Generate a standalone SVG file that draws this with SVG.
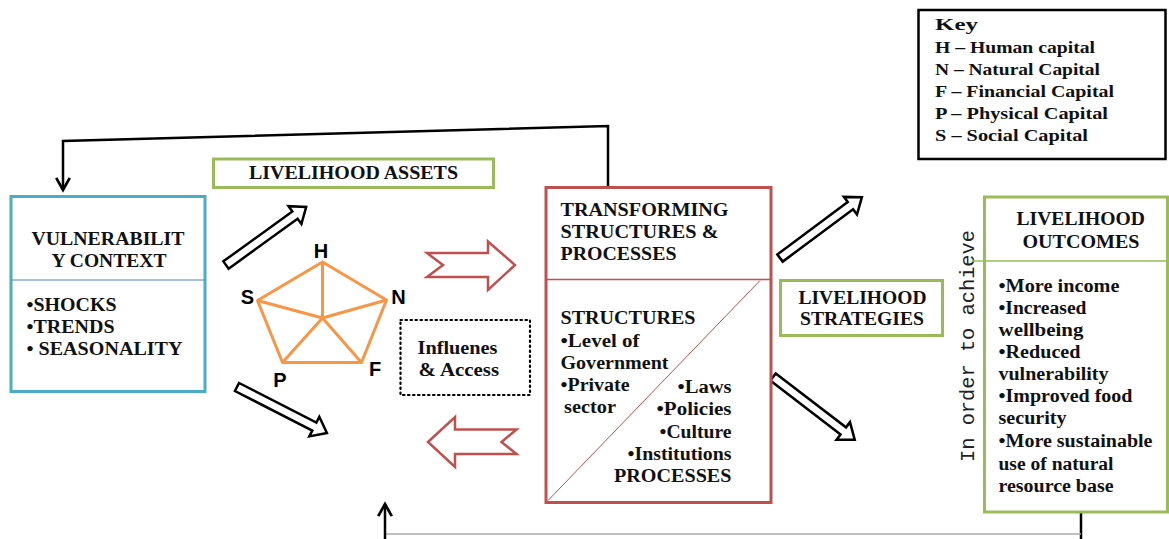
<svg xmlns="http://www.w3.org/2000/svg" width="1169" height="539" viewBox="0 0 1169 539">
<style>
.t{font-family:"Liberation Serif","Times New Roman",serif;font-weight:bold;font-size:18px;fill:#111}
.k{font-family:"Liberation Serif","Times New Roman",serif;font-weight:bold;font-size:16.5px;fill:#111}
.lbl{font-family:"Liberation Sans",Arial,sans-serif;font-weight:bold;font-size:20px;fill:#000}
.mono{font-family:"Liberation Mono","Courier New",monospace;font-size:21px;fill:#222}
.blk{fill:#fff;stroke:#000;stroke-width:2.5;stroke-linejoin:miter}
.red{fill:#fff;stroke:#C0504D;stroke-width:2.5;stroke-linejoin:miter}
.grn{fill:#fff;stroke:#9BBB59;stroke-width:3}
.con{fill:none;stroke:#000;stroke-width:2.5}
.pent{fill:none;stroke:#F79646;stroke-width:3;stroke-linejoin:round}
</style>
<defs>
<marker id="ah" viewBox="0 0 12 12" refX="10" refY="6" markerWidth="6.5" markerHeight="6.5" markerUnits="strokeWidth" orient="auto">
<path d="M1,1 L10,6 L1,11" fill="none" stroke="#000" stroke-width="2"/>
</marker>
<path id="barrow" d="M0,-4.5 L86,-4.5 L86,-11 L100,0 L86,11 L86,4.5 L0,4.5 Z"/>
</defs>
<rect width="1169" height="539" fill="#fff"/>

<g id="connectors">
<polyline class="con" points="608,186 608,126 63,141 63,190" marker-end="url(#ah)"/>
<line x1="1081" y1="512" x2="1081" y2="539" stroke="#000" stroke-width="2.5"/>
<line x1="385" y1="534" x2="1081" y2="534" stroke="#aaa" stroke-width="1.5"/>
<line x1="385" y1="539" x2="385" y2="504" stroke="#000" stroke-width="2.5" marker-end="url(#ah)"/>
<g id="black-arrows">
<use href="#barrow" class="blk" transform="translate(226,265) rotate(-35.9) scale(0.99,1)"/>
<use href="#barrow" class="blk" transform="translate(237,387) rotate(27.1) scale(1.01,1)"/>
<use href="#barrow" class="blk" transform="translate(780,258) rotate(-36.6) scale(1.02,1)"/>
<use href="#barrow" class="blk" transform="translate(773,377) rotate(37.5) scale(1.03,1)"/>
</g>
<g id="red-arrows">
<polygon class="red" points="427,253 443,265 427,277 488,277 488,290 515,265 488,241.5 488,253"/>
<polygon class="red" points="428,442 455,417 455,429.5 516.5,429.5 501.5,442 516.5,454 455,454 455,467"/>
</g>
</g>

<g id="key">
<rect x="918.5" y="10" width="247" height="149" fill="#fff" stroke="#000" stroke-width="2.5"/>
<text class="k" x="935" y="30" font-size="18.5" textLength="43" lengthAdjust="spacingAndGlyphs">Key</text>
<text class="k" x="935" y="53" textLength="160" lengthAdjust="spacingAndGlyphs">H – Human capital</text>
<text class="k" x="935" y="75" textLength="165" lengthAdjust="spacingAndGlyphs">N – Natural Capital</text>
<text class="k" x="935" y="97" textLength="179" lengthAdjust="spacingAndGlyphs">F – Financial Capital</text>
<text class="k" x="935" y="119" textLength="173" lengthAdjust="spacingAndGlyphs">P – Physical Capital</text>
<text class="k" x="935" y="141" textLength="153" lengthAdjust="spacingAndGlyphs">S – Social Capital</text>
</g>

<g id="vulnerability">
<rect x="11" y="196.5" width="194" height="195" fill="#fff" stroke="#4BACC6" stroke-width="3"/>
<line x1="12" y1="280" x2="204" y2="280" stroke="#4F81BD" stroke-width="1"/>
<text class="t" x="31.5" y="245" textLength="153" lengthAdjust="spacingAndGlyphs">VULNERABILIT</text>
<text class="t" x="51.5" y="267" textLength="115" lengthAdjust="spacingAndGlyphs">Y CONTEXT</text>
<text class="t" x="26.5" y="311" textLength="90" lengthAdjust="spacingAndGlyphs">•SHOCKS</text>
<text class="t" x="26.5" y="333" textLength="88" lengthAdjust="spacingAndGlyphs">•TRENDS</text>
<text class="t" x="26.5" y="355" textLength="156" lengthAdjust="spacingAndGlyphs">• SEASONALITY</text>
</g>

<g id="livelihood-assets">
<rect class="grn" x="213.5" y="159" width="280" height="28.5"/>
<text class="t" x="249" y="179" textLength="209" lengthAdjust="spacingAndGlyphs">LIVELIHOOD ASSETS</text>
</g>

<g id="pentagon">
<polygon class="pent" points="322.5,262 386.5,300 361.5,362.5 282.5,362.5 257.5,300.5"/>
<path class="pent" d="M322.5,262 L322.5,318 M386.5,300 L322.5,318 M361.5,362.5 L322.5,318 M282.5,362.5 L322.5,318 M257.5,300.5 L322.5,318"/>
<text class="lbl" x="321" y="258" text-anchor="middle">H</text>
<text class="lbl" x="398.5" y="303.5" text-anchor="middle">N</text>
<text class="lbl" x="375" y="375.5" text-anchor="middle">F</text>
<text class="lbl" x="280" y="387" text-anchor="middle">P</text>
<text class="lbl" x="247.5" y="303.5" text-anchor="middle">S</text>
</g>

<g id="influences">
<rect x="400.5" y="320" width="129.5" height="75" fill="#fff" stroke="#000" stroke-width="2.2" stroke-dasharray="1.5,3.5" stroke-linecap="round"/>
<text class="t" x="417.5" y="354" font-size="16.5" textLength="80" lengthAdjust="spacingAndGlyphs">Influenes</text>
<text class="t" x="418.5" y="376" font-size="16.5" textLength="80.5" lengthAdjust="spacingAndGlyphs">&amp; Access</text>
</g>

<g id="transforming">
<rect x="546" y="187.5" width="225" height="315" fill="#fff" stroke="#C0504D" stroke-width="3"/>
<line x1="547" y1="279.5" x2="770" y2="279.5" stroke="#C0504D" stroke-width="1.5"/>
<line x1="548" y1="500.5" x2="760" y2="280.5" stroke="#C0504D" stroke-width="1"/>
<text class="t" x="560.5" y="216" textLength="168" lengthAdjust="spacingAndGlyphs">TRANSFORMING</text>
<text class="t" x="560.5" y="238" textLength="158" lengthAdjust="spacingAndGlyphs">STRUCTURES &amp;</text>
<text class="t" x="560.5" y="260" textLength="116" lengthAdjust="spacingAndGlyphs">PROCESSES</text>
<text class="t" x="560.5" y="324" textLength="135" lengthAdjust="spacingAndGlyphs">STRUCTURES</text>
<text class="t" x="560.5" y="347" textLength="79" lengthAdjust="spacingAndGlyphs">•Level of</text>
<text class="t" x="560.5" y="369" textLength="108" lengthAdjust="spacingAndGlyphs">Government</text>
<text class="t" x="560.5" y="391" textLength="69" lengthAdjust="spacingAndGlyphs">•Private</text>
<text class="t" x="564" y="413" textLength="52" lengthAdjust="spacingAndGlyphs">sector</text>
<text class="t" x="677.5" y="393" textLength="54" lengthAdjust="spacingAndGlyphs">•Laws</text>
<text class="t" x="656.5" y="415" textLength="75" lengthAdjust="spacingAndGlyphs">•Policies</text>
<text class="t" x="659.5" y="437.5" textLength="72" lengthAdjust="spacingAndGlyphs">•Culture</text>
<text class="t" x="627.5" y="459.5" textLength="104" lengthAdjust="spacingAndGlyphs">•Institutions</text>
<text class="t" x="614" y="481.5" textLength="117.5" lengthAdjust="spacingAndGlyphs">PROCESSES</text>
</g>

<g id="strategies">
<rect class="grn" x="780.5" y="280.5" width="162" height="55"/>
<text class="t" x="798.5" y="303.5" textLength="128" lengthAdjust="spacingAndGlyphs">LIVELIHOOD</text>
<text class="t" x="800" y="325" textLength="124" lengthAdjust="spacingAndGlyphs">STRATEGIES</text>
</g>

<g id="in-order">
<text class="mono" transform="translate(974,346) rotate(-90)" text-anchor="middle" textLength="232" lengthAdjust="spacingAndGlyphs">In order to achieve</text>
</g>

<g id="outcomes">
<rect class="grn" x="984.5" y="197" width="183" height="315"/>
<line x1="972" y1="261" x2="1167" y2="261" stroke="#9BBB59" stroke-width="1.5"/>
<text class="t" x="1016.5" y="225" textLength="128.5" lengthAdjust="spacingAndGlyphs">LIVELIHOOD</text>
<text class="t" x="1022.5" y="247.5" textLength="117" lengthAdjust="spacingAndGlyphs">OUTCOMES</text>
<text class="t" x="998.5" y="291.5" textLength="121" lengthAdjust="spacingAndGlyphs">•More income</text>
<text class="t" x="998.5" y="313.5" textLength="88" lengthAdjust="spacingAndGlyphs">•Increased</text>
<text class="t" x="998.5" y="335.5" textLength="85" lengthAdjust="spacingAndGlyphs">wellbeing</text>
<text class="t" x="998.5" y="358" textLength="82" lengthAdjust="spacingAndGlyphs">•Reduced</text>
<text class="t" x="998.5" y="380" textLength="110" lengthAdjust="spacingAndGlyphs">vulnerability</text>
<text class="t" x="998.5" y="402" textLength="134" lengthAdjust="spacingAndGlyphs">•Improved food</text>
<text class="t" x="998.5" y="424" textLength="68" lengthAdjust="spacingAndGlyphs">security</text>
<text class="t" x="998.5" y="447" textLength="154" lengthAdjust="spacingAndGlyphs">•More sustainable</text>
<text class="t" x="998.5" y="469.5" textLength="115" lengthAdjust="spacingAndGlyphs">use of natural</text>
<text class="t" x="998.5" y="491.5" textLength="115" lengthAdjust="spacingAndGlyphs">resource base</text>
</g>
</svg>
